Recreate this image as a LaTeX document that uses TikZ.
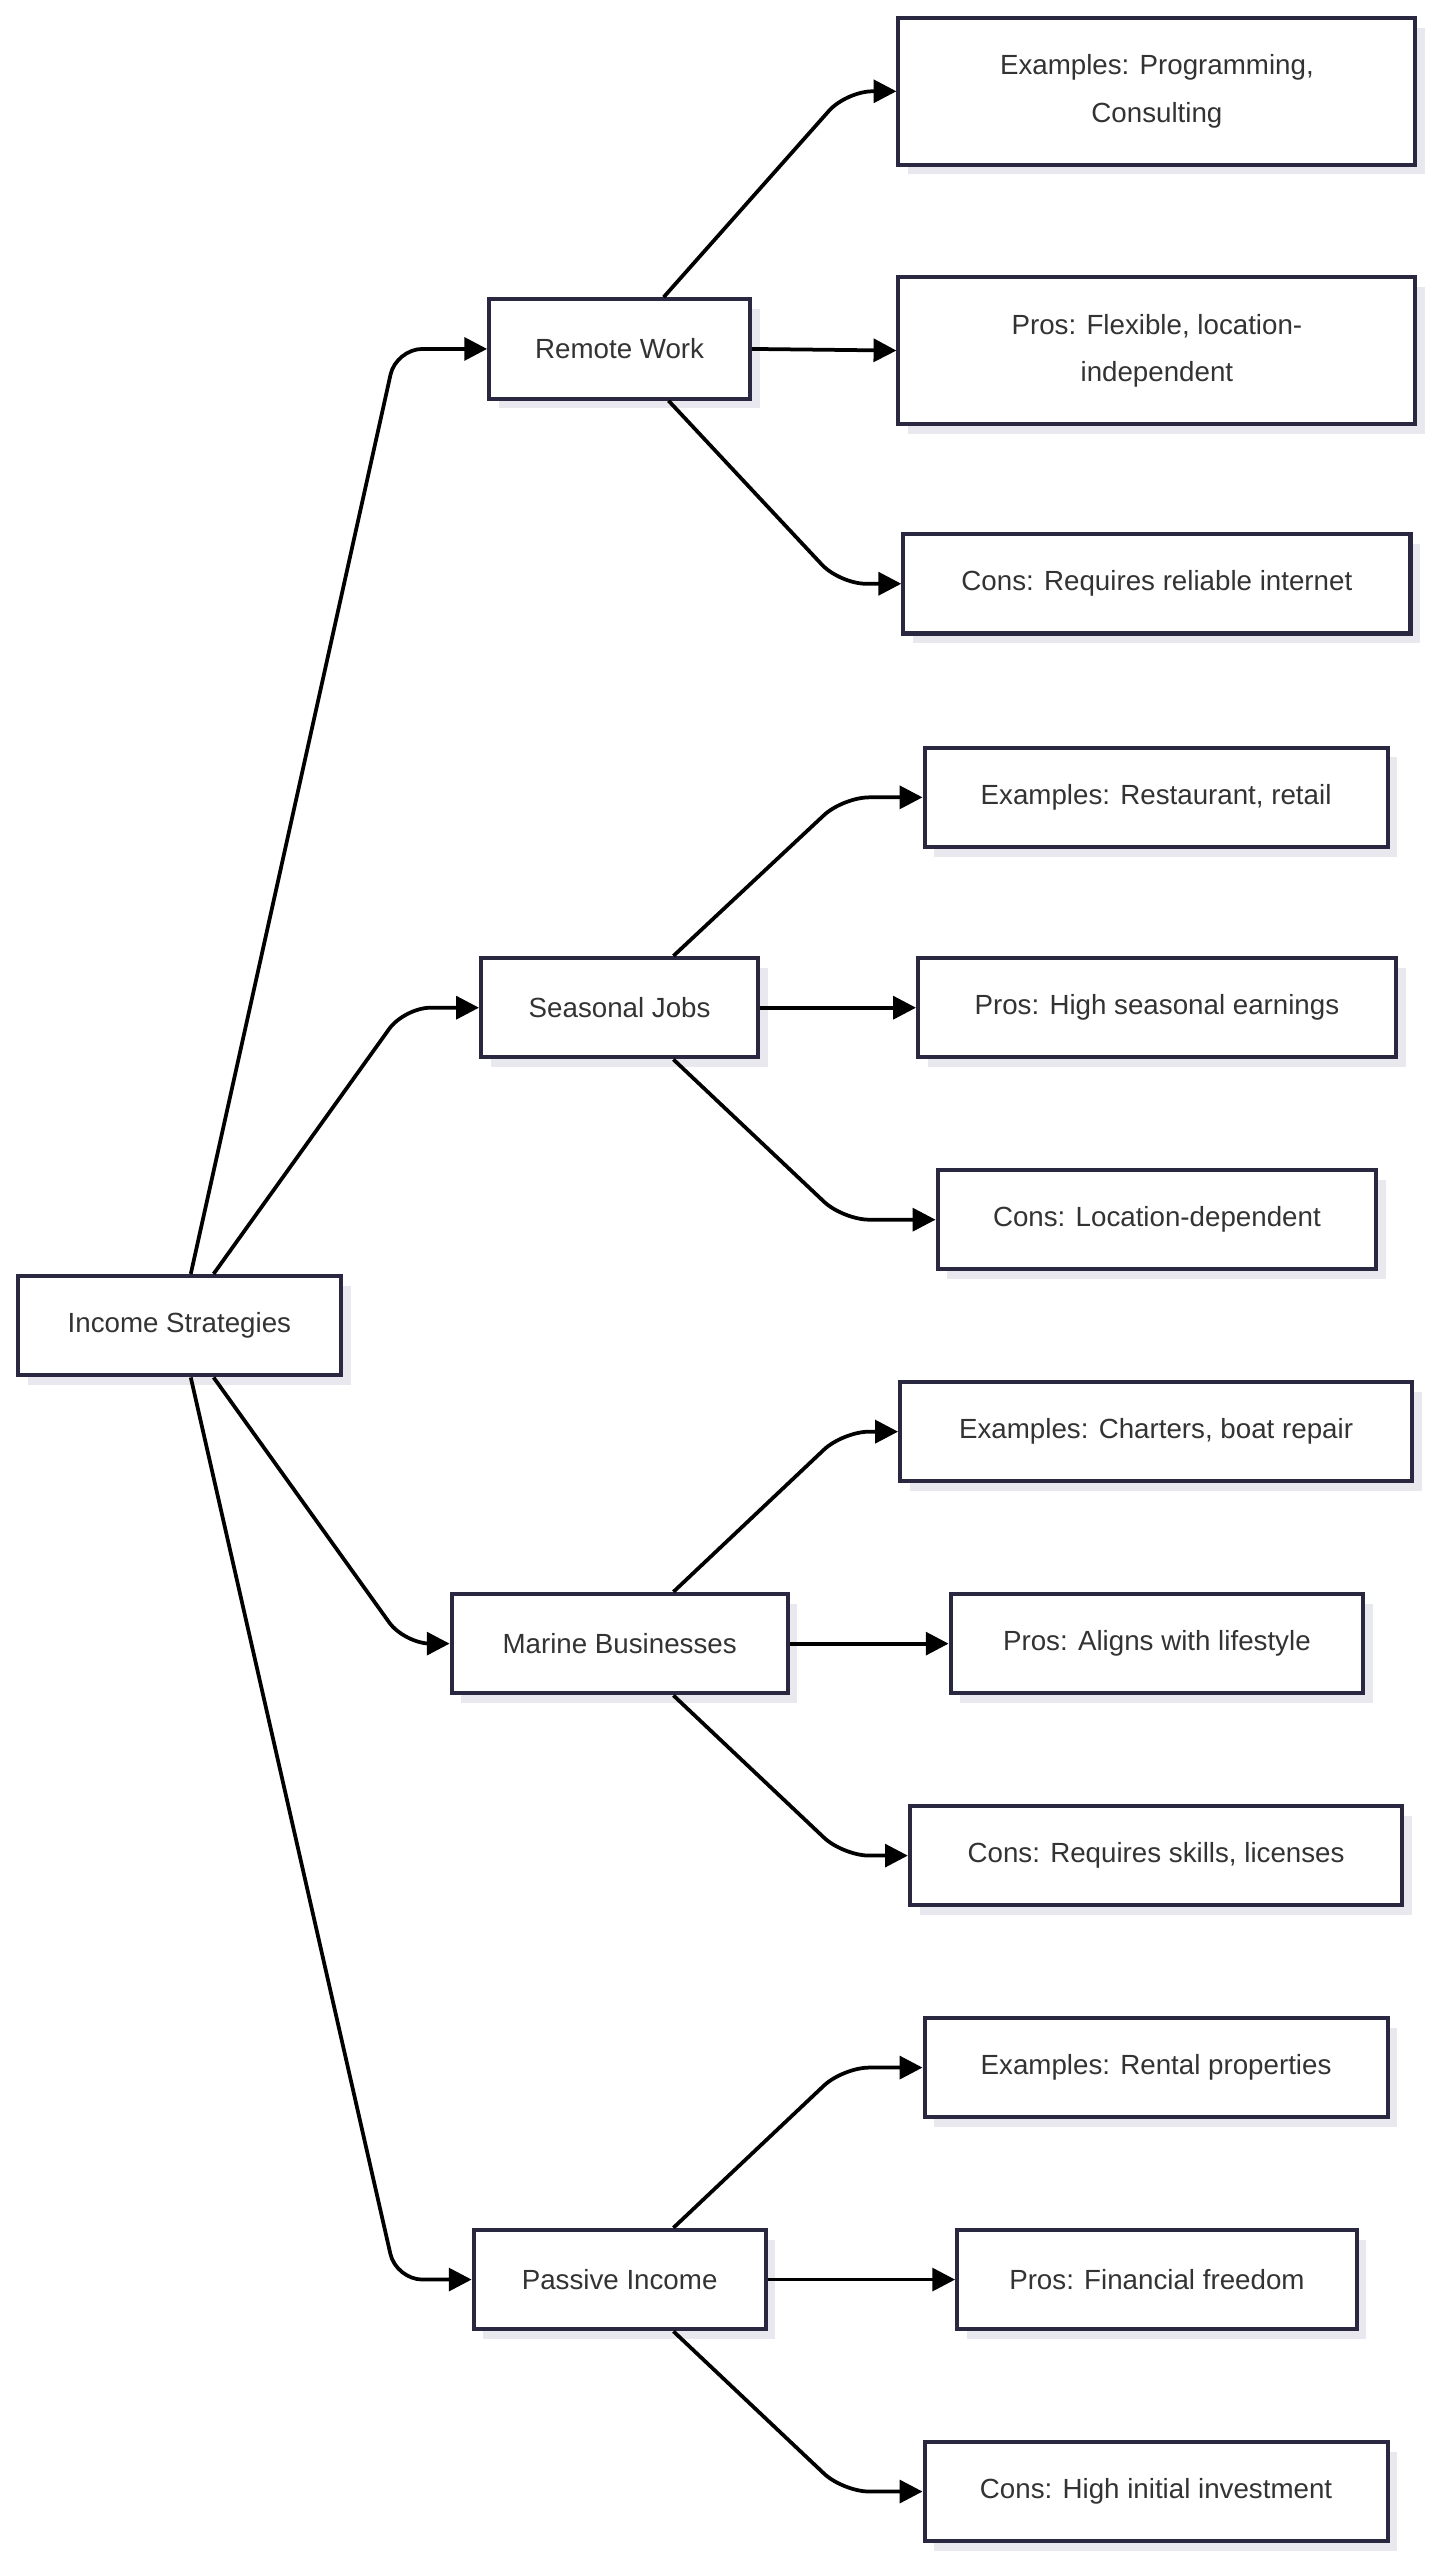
\documentclass[tikz,border=0pt]{standalone}
\usepackage{fontspec}
\setmainfont{Liberation Sans}
\usetikzlibrary{arrows.meta,shadows}
\definecolor{bord}{HTML}{2A2740}
\definecolor{txt}{HTML}{333333}
\definecolor{shd}{HTML}{E8E8EE}
\begin{document}
\begin{tikzpicture}[x=1pt,y=-1pt,
  box/.style={draw=bord,line width=2.5pt,fill=white,text=txt,align=center,
    font=\fontsize{17}{29}\selectfont,inner sep=0pt,
    drop shadow={shadow xshift=6pt,shadow yshift=-6pt,fill=shd,opacity=1}},
  con/.style={line width=2.3pt,rounded corners=16pt,-{Triangle[length=14pt,width=14pt]}}]
\useasboundingbox (0,0) rectangle (880,1570);
\node[box,minimum width=198pt,minimum height=61pt] (root) at (110,813) {Income Strategies};
\node[box,minimum width=160pt,minimum height=61pt] (rw) at (380,214) {Remote Work};
\node[box,minimum width=170pt,minimum height=61pt] (sj) at (380,618) {Seasonal Jobs};
\node[box,minimum width=206pt,minimum height=61pt] (mb) at (380,1008) {Marine Businesses};
\node[box,minimum width=179pt,minimum height=61pt] (pi) at (380,1398) {Passive Income};
\node[box,minimum width=317pt,minimum height=90pt] (r1) at (709.5,56) {Examples: Programming,\\Consulting};
\node[box,minimum width=317pt,minimum height=90pt] (r2) at (709.5,215) {Pros: Flexible, location-\\independent};
\node[box,minimum width=311pt,minimum height=61pt] (r3) at (709.5,358) {Cons: Requires reliable internet};
\node[box,minimum width=284pt,minimum height=61pt] (s1) at (709,489) {Examples: Restaurant, retail};
\node[box,minimum width=293pt,minimum height=61pt] (s2) at (709.5,618) {Pros: High seasonal earnings};
\node[box,minimum width=269pt,minimum height=61pt] (s3) at (709.5,748) {Cons: Location-dependent};
\node[box,minimum width=314pt,minimum height=61pt] (m1) at (709,878) {Examples: Charters, boat repair};
\node[box,minimum width=253pt,minimum height=61pt] (m2) at (709.5,1008) {Pros: Aligns with lifestyle};
\node[box,minimum width=302pt,minimum height=61pt] (m3) at (709,1138) {Cons: Requires skills, licenses};
\node[box,minimum width=284pt,minimum height=61pt] (p1) at (709,1268) {Examples: Rental properties};
\node[box,minimum width=245pt,minimum height=61pt] (p2) at (709.5,1398) {Pros: Financial freedom};
\node[box,minimum width=284pt,minimum height=61pt] (p3) at (709,1528) {Cons: High initial investment};
% root edges
\draw[con] ([xshift=7pt]root.north) -- (243,214) -- (rw.west);
\draw[con] ([xshift=21pt]root.north) -- (248,618) -- (sj.west);
\draw[con] ([xshift=21pt]root.south) -- (248,1008) -- (mb.west);
\draw[con] ([xshift=7pt]root.south) -- (243,1398) -- (pi.west);
% remote work
\draw[con] ([xshift=27pt]rw.north) -- (519,56) -- (r1.west);
\draw[con] (rw.east) -- (r2.west);
\draw[con] ([xshift=30pt]rw.south) -- (515,358) -- (r3.west);
% seasonal
\draw[con] ([xshift=33pt]sj.north) -- (517,489) -- (s1.west);
\draw[con] (sj.east) -- (s2.west);
\draw[con] ([xshift=33pt]sj.south) -- (517,748) -- (s3.west);
% marine
\draw[con] ([xshift=33pt]mb.north) -- (517,878) -- (m1.west);
\draw[con] (mb.east) -- (m2.west);
\draw[con] ([xshift=33pt]mb.south) -- (517,1138) -- (m3.west);
% passive
\draw[con] ([xshift=33pt]pi.north) -- (517,1268) -- (p1.west);
\draw[con] (pi.east) -- (p2.west);
\draw[con] ([xshift=33pt]pi.south) -- (517,1528) -- (p3.west);
\end{tikzpicture}
\end{document}
